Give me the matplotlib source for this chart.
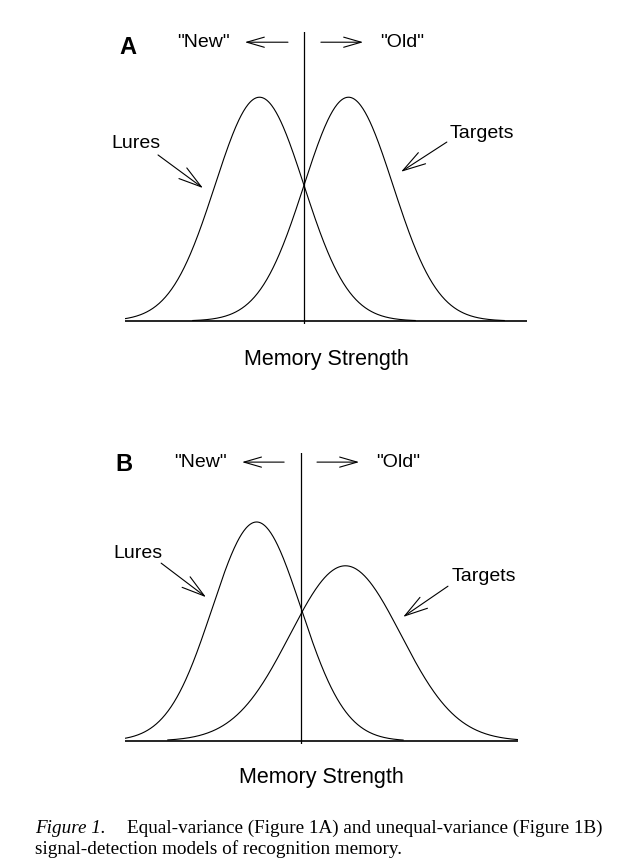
import numpy as np
import matplotlib
matplotlib.use("Agg")
import matplotlib.pyplot as plt

plt.rcParams['font.family'] = ['Liberation Sans', 'DejaVu Sans']

# model parameters (units: lure SD, criterion at 0)
means_a = [-1.0, 1.0]
sds_a = [1.0, 1.0]
tails_a = [3.5, 3.5]

means_b = [-1.0, 1.0]
sds_b = [1.0, 1.25]
tails_b = [3.3, 3.2]

curve_names = ['Lures', 'Targets']
panel_letters = ['A', 'B']
side_labels = ['"New"', '"Old"']
axis_label = 'Memory Strength'
caption_lead = 'Figure 1.'
caption_line1 = 'Equal-variance (Figure 1A) and unequal-variance (Figure 1B)'
caption_line2 = 'signal-detection models of recognition memory.'

W, H = 618, 866
fig = plt.figure(figsize=(W / 100, H / 100), dpi=100)

def px_axes(left, right, top, bottom):
    return fig.add_axes([left / W, 1 - bottom / H, (right - left) / W, (bottom - top) / H])

def pdf(x, m, s):
    return np.exp(-0.5 * ((x - m) / s) ** 2) / (s * np.sqrt(2 * np.pi))

def draw_panel(ax, means, sds, tails, xlim, ylim, letter, pos):
    for m, s, t in zip(means, sds, tails):
        x = np.linspace(m - t * s, m + t * s, 400)
        ax.plot(x, pdf(x, m, s), color='black', lw=0.8)
    ax.axhline(0, color='black', lw=1.2)
    ax.axvline(0, color='black', lw=0.9)
    ax.set_xlim(xlim)
    ax.set_ylim(ylim)
    ax.axis('off')

    # short heads on the New/Old arrows, longer ones on the pointers
    flat = dict(arrowstyle='->,head_length=0.9,head_width=0.26', color='black',
                lw=0.8, mutation_scale=14, shrinkA=0, shrinkB=0)
    slant = dict(arrowstyle='->,head_length=1.18,head_width=0.34', color='black',
                 lw=0.8, mutation_scale=14, shrinkA=0, shrinkB=0)
    ax.text(pos['letter'][0], pos['letter'][1], letter, fontsize=17, fontweight='bold',
            ha='center', va='center')
    ax.text(pos['new'][0], pos['new'][1], side_labels[0], fontsize=14, ha='center', va='center')
    ax.text(pos['old'][0], pos['old'][1], side_labels[1], fontsize=14, ha='center', va='center')
    ax.annotate('', xy=pos['new_arrow'][1], xytext=pos['new_arrow'][0], arrowprops=flat)
    ax.annotate('', xy=pos['old_arrow'][1], xytext=pos['old_arrow'][0], arrowprops=flat)
    ax.text(pos['lures'][0], pos['lures'][1], curve_names[0], fontsize=14, ha='center', va='center')
    ax.text(pos['targets'][0], pos['targets'][1], curve_names[1], fontsize=14, ha='center', va='center')
    ax.annotate('', xy=pos['lure_arrow'][1], xytext=pos['lure_arrow'][0], arrowprops=slant)
    ax.annotate('', xy=pos['target_arrow'][1], xytext=pos['target_arrow'][0], arrowprops=slant)

# panel A
ax1 = px_axes(125, 527, 32, 324)
pos_a = {
    'letter': (-3.955, 0.488),
    'new': (-2.27, 0.497), 'old': (2.20, 0.497),
    'new_arrow': ((-0.36, 0.497), (-1.33, 0.497)),
    'old_arrow': ((0.38, 0.497), (1.33, 0.497)),
    'lures': (-3.78, 0.316), 'targets': (4.0, 0.335),
    'lure_arrow': ((-3.28, 0.296), (-2.27, 0.237)),
    'target_arrow': ((3.21, 0.319), (2.18, 0.266)),
}
draw_panel(ax1, means_a, sds_a, tails_a, (-4.022, 5.011), (-0.00535, 0.5152),
           panel_letters[0], pos_a)

# panel B
ax2 = px_axes(125, 518, 453, 744)
pos_b = {
    'letter': (-3.99, 0.503),
    'new': (-2.27, 0.508), 'old': (2.18, 0.508),
    'new_arrow': ((-0.38, 0.508), (-1.33, 0.508)),
    'old_arrow': ((0.36, 0.508), (1.31, 0.508)),
    'lures': (-3.67, 0.342), 'targets': (4.12, 0.299),
    'lure_arrow': ((-3.15, 0.324), (-2.14, 0.262)),
    'target_arrow': ((3.31, 0.282), (2.30, 0.226)),
}
draw_panel(ax2, means_b, sds_b, tails_b, (-3.964, 4.887), (-0.00546, 0.5246),
           panel_letters[1], pos_b)

fig.text(326 / W, 1 - 360 / H, axis_label, fontsize=15.5, ha='center', va='center')
fig.text(321.5 / W, 1 - 778 / H, axis_label, fontsize=15.5, ha='center', va='center')

serif = ['Liberation Serif', 'DejaVu Serif']
fig.text(35 / W, 1 - 833 / H, caption_lead, fontsize=13.8, family=serif, style='italic',
         ha='left', va='baseline')
fig.text(127 / W, 1 - 833 / H, caption_line1, fontsize=13.8, family=serif,
         ha='left', va='baseline')
fig.text(35 / W, 1 - 854 / H, caption_line2, fontsize=13.8, family=serif,
         ha='left', va='baseline')

fig.savefig('out.png', dpi=100)
